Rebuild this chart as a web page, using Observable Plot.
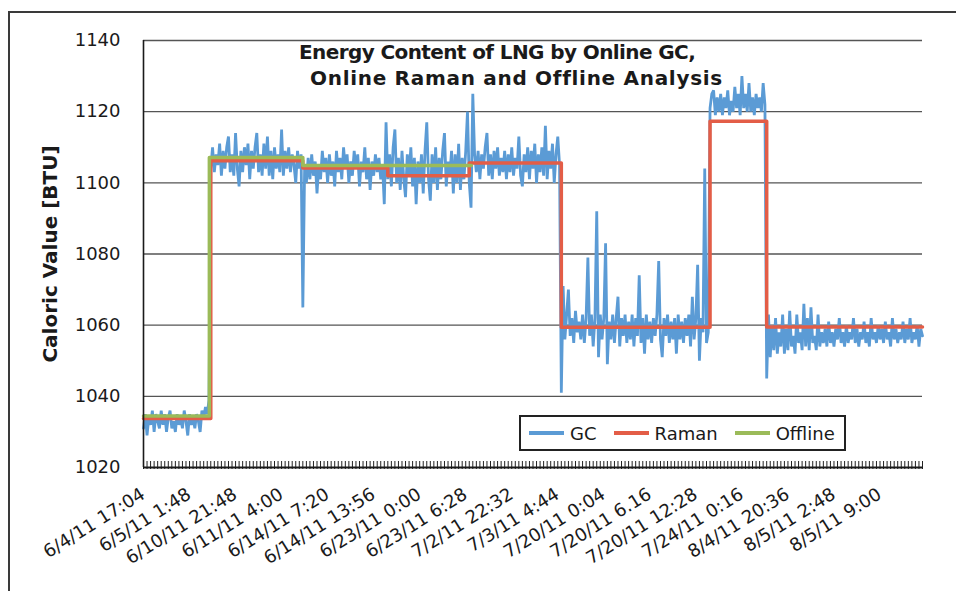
<!DOCTYPE html>
<html>
<head>
<meta charset="utf-8">
<script src="https://cdn.jsdelivr.net/npm/d3@7"></script>
<script src="https://cdn.jsdelivr.net/npm/@observablehq/plot@0.6"></script>
<style>
  html, body { margin: 0; padding: 0; background: #fff; }
  body { width: 956px; height: 591px; overflow: hidden; position: relative; font-family: "DejaVu Sans", sans-serif; }
  #frame { position: absolute; left: 8px; top: 11px; width: 980px; height: 620px; border: 2px solid #3a3a3a; box-sizing: border-box; }
  #chart { position: absolute; left: 0; top: 0; }
  .title { position: absolute; font-weight: bold; font-size: 20px; color: #1a1a1a; white-space: nowrap; line-height: 1; }
  #legend { position: absolute; left: 519px; top: 415px; width: 327px; height: 36px; box-sizing: border-box; border: 2px solid #222; background: #fff; display: flex; align-items: center; padding-left: 8px; font-size: 18px; color: #1a1a1a; }
  .item { display: flex; align-items: center; margin-right: 17px; }
  .sw { width: 35px; height: 3.5px; margin-right: 6px; }
</style>
</head>
<body>
<div id="frame"></div>
<div id="chart"></div>
<div class="title" id="t1" style="left:299px; top:42px; letter-spacing:-0.6px;">Energy Content of LNG by Online GC,</div>
<div class="title" id="t2" style="left:310px; top:68px; letter-spacing:0.7px;">Online Raman and Offline Analysis</div>
<div id="legend"></div>
<script>
// ---- data ----
const xTickLabels = [
  "6/4/11 17:04", "6/5/11 1:48", "6/10/11 21:48", "6/11/11 4:00", "6/14/11 7:20",
  "6/14/11 13:56", "6/23/11 0:00", "6/23/11 6:28", "7/2/11 22:32", "7/3/11 4:44",
  "7/20/11 0:04", "7/20/11 6.16", "7/20/11 12:28", "7/24/11 0:16", "8/4/11 20:36",
  "8/5/11 2:48", "8/5/11 9:00"
];
const labelEvery = 13;          // a label every 13 categories
const categoryCount = 221;      // categories 0..220
const yTicks = [1020, 1040, 1060, 1080, 1100, 1120, 1140];

// Online GC: two readings per category, read segment by segment
const gcStep = 0.5;
const gcSegA = [1031,1035,1029,1034,1032,1036,1030,1035,1033,1031,1036,1032,1035,1030,1034,1036,1031,1033,1030,1035,1032,1034,1031,1036,1033,1029,1035,1032,1034,1031,1035,1033,1030,1036,1034,1037,1035,1039];
const gcSegB = [1104,1110,1103,1108,1105,1111,1102,1109,1104,1110,1113,1103,1108,1102,1114,1104,1099,1109,1103,1110,1105,1111,1101,1109,1104,1110,1114,1103,1108,1102,1111,1104,1113,1102,1109,1101,1110,1104,1108,1103,1115,1102,1109,1104,1110,1103,1108,1105,1100,1109,1104,1108];
const gcSegC = [1065,1104,1100,1107,1101,1108,1102,1106,1097,1105,1101,1109,1103,1107,1100,1108,1102,1106,1099,1109,1103,1107,1101,1110,1104,1108,1100,1106,1102,1109,1104,1108,1099,1106,1103,1110,1101,1107,1098,1106,1102,1108,1103,1107,1101,1105,1094,1117];
const gcSegD = [1101,1108,1099,1110,1115,1100,1107,1098,1109,1101,1096,1108,1102,1110,1099,1107,1094,1106,1100,1108,1097,1109,1117,1101,1095,1108,1100,1110,1098,1107,1101,1109,1114,1099,1106,1102,1109,1097,1108,1100,1111,1098,1107,1101,1109,1120,1100,1093,1125,1108];
const gcSegE = [1103,1109,1101,1108,1104,1110,1114,1102,1108,1101,1109,1104,1110,1102,1107,1103,1109,1101,1108,1103,1110,1102,1107,1104,1113,1102,1099,1108,1103,1110,1101,1109,1104,1111,1100,1108,1103,1110,1102,1116,1101,1109,1104,1111,1100,1108,1113,1105];
const gcDrop1 = [1041];
const gcSegF = [1071,1056,1063,1070,1057,1062,1055,1064,1058,1061,1056,1063,1055,1062,1079,1057,1063,1054,1062,1092,1051,1063,1056,1062,1083,1049,1061,1056,1063,1055,1062,1068,1054,1062,1057,1063,1055,1061,1056,1063,1054,1062,1057,1074,1055,1062,1052,1063,1056,1061,1055,1062,1057,1063,1078,1056,1051,1062,1057,1063,1055,1061,1056,1062,1052,1063,1056,1061,1055,1062,1057,1063,1054,1068,1056,1062,1077,1050,1062,1058,1104,1055,1058];
const gcSegG = [1121,1125,1126,1119,1124,1120,1125,1119,1124,1121,1126,1119,1123,1120,1127,1121,1125,1119,1130,1121,1125,1120,1128,1120,1124,1119,1125,1121,1124,1120,1128,1122];
const gcDrop2 = [1045];
const gcSegH = [1063,1051,1060,1053,1062,1052,1058,1054,1063,1052,1059,1053,1064,1054,1057,1052,1063,1055,1058,1053,1066,1054,1062,1053,1065,1055,1057,1053,1063,1054,1058,1055,1059,1054,1061,1055,1058,1054,1059,1056,1062,1055,1058,1054,1060,1055,1058,1056,1062,1055,1059,1054,1058,1056,1061,1055,1058,1054,1062,1056,1058,1055,1060,1056,1059,1055,1061,1056,1058,1054,1062,1056,1059,1055,1058,1056,1061,1055,1059,1056,1062,1055,1058,1056,1060,1054,1059,1057];

// Online Raman: category where each level starts, and the level
const ramanIdx = [0, 19, 45, 69, 92, 118, 160, 176, 220];
const ramanVal = [1033.8, 1106.2, 1104.2, 1102.0, 1105.6, 1059.4, 1117.3, 1059.5, 1059.5];

// Offline analysis: category where each level starts, and the level
const offlineIdx = [0, 18.6, 45, 92.6];
const offlineVal = [1034.5, 1107.1, 1104.9, 1104.9];

const series = [
  {name: "GC", color: "#5B9BD5"},
  {name: "Raman", color: "#E35D47"},
  {name: "Offline", color: "#9BBB59"}
];
const yLabel = "Caloric Value [BTU]";

// ---- chart ----
const gcValues = [].concat(gcSegA, gcSegB, gcSegC, gcSegD, gcSegE, gcDrop1, gcSegF, gcSegG, gcDrop2, gcSegH);
const labelIdx = xTickLabels.map((_, i) => i * labelEvery);
const minorTicks = d3.range(0, categoryCount);

const chart = Plot.plot({
  width: 956,
  height: 591,
  marginLeft: 143,
  marginRight: 34,
  marginTop: 40,
  marginBottom: 124,
  style: {fontFamily: "DejaVu Sans, sans-serif", fontSize: "18px", color: "#1a1a1a", background: "transparent"},
  x: {domain: [0, categoryCount - 1]},
  y: {domain: [1020, 1140]},
  marks: [
    Plot.gridY(yTicks.slice(1), {stroke: "#555", strokeOpacity: 1, strokeWidth: 1.4}),
    Plot.axisY(yTicks, {tickSize: 0, tickPadding: 23, fontSize: 18, label: null, tickFormat: d => String(d)}),
    Plot.axisX(minorTicks, {tickSize: 8, dy: -6, tickFormat: () => "", label: null, stroke: "#222", strokeWidth: 1}),
    Plot.text(labelIdx, {x: d => d, text: (d, i) => xTickLabels[i], frameAnchor: "bottom", rotate: -32, textAnchor: "end", lineAnchor: "top", dy: 19, dx: -4, fontSize: 18, fill: "#1a1a1a"}),
    Plot.text([yLabel], {text: d => d, frameAnchor: "left", rotate: -90, dx: -93, textAnchor: "middle", lineAnchor: "middle", fontWeight: "bold", fontSize: 20, fill: "#1a1a1a"}),
    Plot.line(gcValues, {x: (d, i) => i * gcStep, y: d => d, stroke: series[0].color, strokeWidth: 2.8, strokeLinejoin: "miter", strokeMiterlimit: 2}),
    Plot.line(ramanIdx, {x: d => d, y: (d, i) => ramanVal[i], curve: "step-after", stroke: series[1].color, strokeWidth: 3.5}),
    Plot.line(offlineIdx, {x: d => d, y: (d, i) => offlineVal[i], curve: "step-after", stroke: series[2].color, strokeWidth: 3.5}),
    Plot.ruleY([1020], {stroke: "#1a1a1a", strokeWidth: 2}),
    Plot.ruleX([0], {stroke: "#1a1a1a", strokeWidth: 1.6})
  ]
});
document.getElementById("chart").appendChild(chart);

// legend
const legend = document.getElementById("legend");
series.forEach(s => {
  const item = document.createElement("div");
  item.className = "item";
  const sw = document.createElement("div");
  sw.className = "sw";
  sw.style.background = s.color;
  const tx = document.createElement("span");
  tx.textContent = s.name;
  item.appendChild(sw);
  item.appendChild(tx);
  legend.appendChild(item);
});
</script>
</body>
</html>
